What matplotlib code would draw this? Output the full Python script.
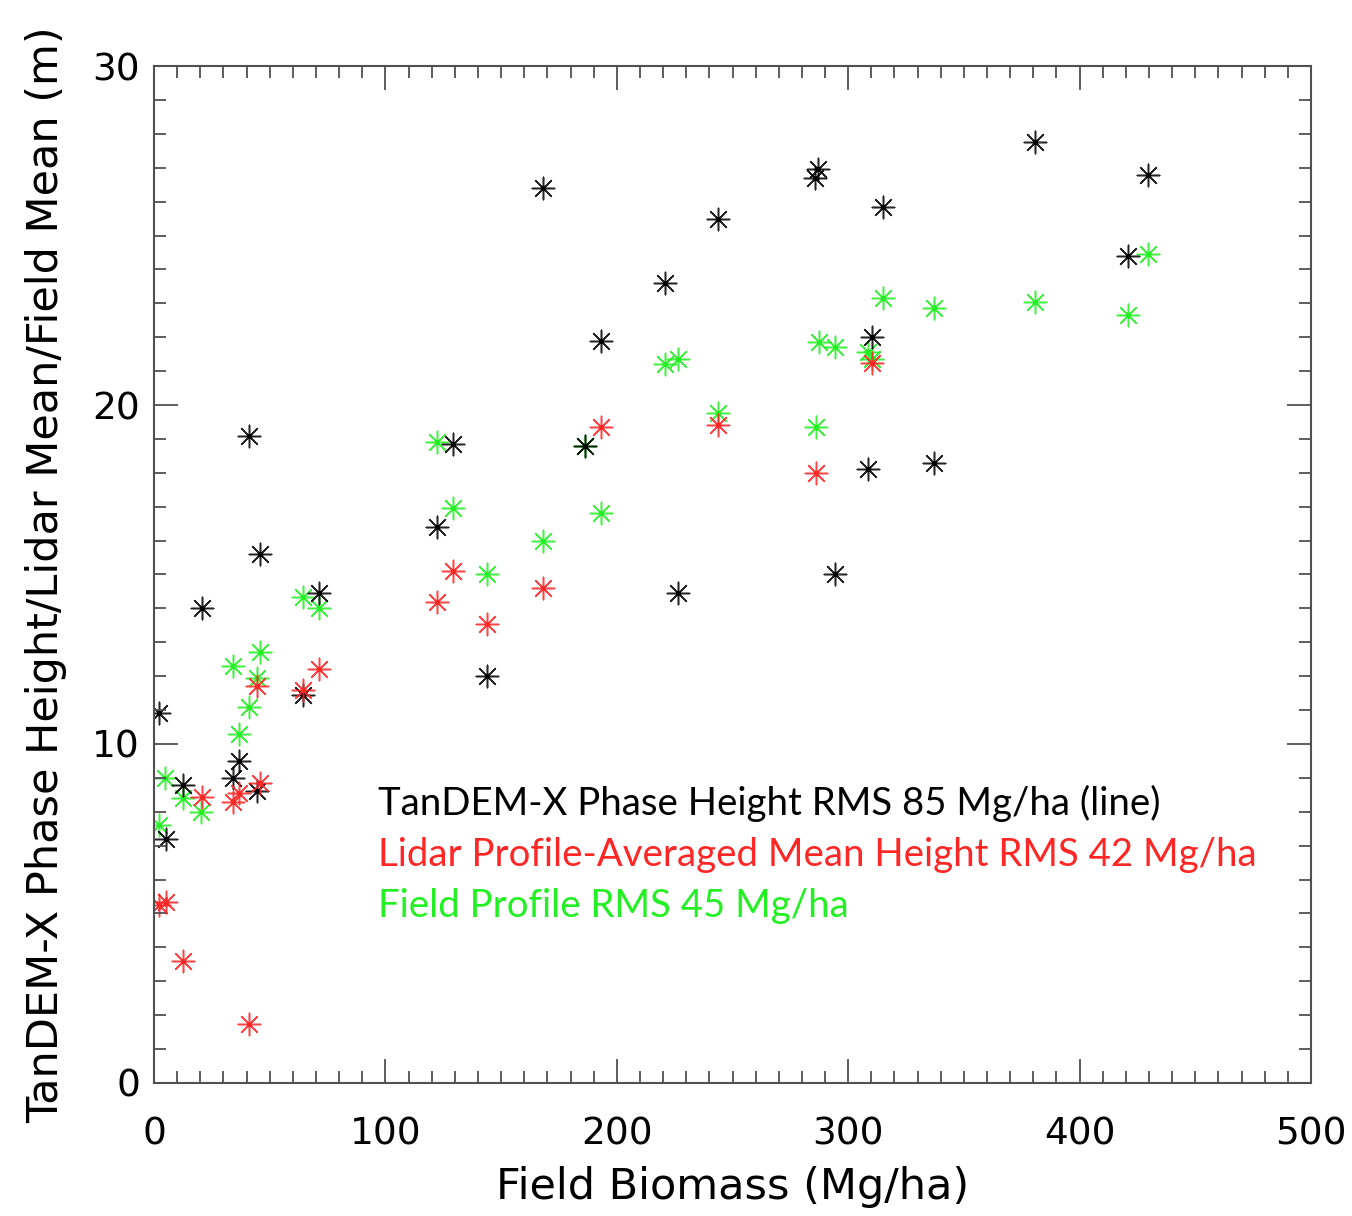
import numpy as np
import matplotlib
matplotlib.use("Agg")
import matplotlib.pyplot as plt
from matplotlib.ticker import MultipleLocator

# data (Field Biomass Mg/ha, height m)
tdx_biomass = [2.2, 5.2, 12.5, 20.7, 34.1, 36.7, 41.1, 44.5, 45.8, 64.4,
               71.3, 122.4, 129.2, 143.9, 168.1, 186.3, 193.2, 220.8, 226.4, 243.7,
               285.7, 286.9, 294.3, 308.6, 310.3, 315.0, 337.1, 380.7, 420.9, 429.6]
tdx_height = [10.9, 7.2, 8.8, 14.0, 9.0, 9.5, 19.1, 8.6, 15.6, 11.45,
              14.45, 16.4, 18.85, 12.0, 26.4, 18.8, 21.9, 23.6, 14.45, 25.5,
              26.7, 26.95, 15.0, 18.1, 22.0, 25.85, 18.3, 27.75, 24.4, 26.8]

lidar_biomass = [2.2, 5.2, 12.5, 20.7, 34.1, 36.7, 41.1, 44.5, 45.8, 64.4,
                 71.3, 122.3, 129.2, 143.9, 168.1, 193.2, 243.7, 286.1, 310.3]
lidar_height = [5.25, 5.35, 3.6, 8.45, 8.3, 8.55, 1.75, 11.7, 8.85, 11.6,
                12.2, 14.2, 15.1, 13.55, 14.6, 19.35, 19.4, 18.0, 21.25]

field_biomass = [2.2, 4.8, 12.5, 20.3, 34.1, 36.7, 41.1, 44.5, 45.8, 64.4,
                 71.3, 122.3, 129.2, 143.9, 168.1, 186.3, 193.2, 220.8, 226.4, 243.7,
                 286.1, 287.4, 294.3, 308.6, 310.3, 315.0, 337.1, 380.7, 420.9, 429.6]
field_height = [7.6, 9.0, 8.4, 8.0, 12.3, 10.3, 11.1, 11.95, 12.7, 14.35,
                14.0, 18.9, 16.95, 15.0, 16.0, 18.8, 16.8, 21.2, 21.35, 19.75,
                19.35, 21.85, 21.7, 21.55, 21.35, 23.15, 22.85, 23.05, 22.65, 24.45]

labels = ['TanDEM-X Phase Height RMS 85 Mg/ha (line)',
          'Lidar Profile-Averaged Mean Height RMS 42 Mg/ha',
          'Field Profile RMS 45 Mg/ha']
colors = ['black', '#ff2626', '#22f022']

fig = plt.figure(figsize=(13.52, 12.16), dpi=100)
ax = fig.add_axes([0.1139, 0.1094, 0.8558, 0.8363])

star = (8, 2, 0)
for xs, ys, c in [(field_biomass, field_height, colors[2]),
                  (tdx_biomass, tdx_height, colors[0]),
                  (lidar_biomass, lidar_height, colors[1])]:
    ax.scatter(xs, ys, marker=star, s=260, color=c, linewidths=1.1, alpha=0.85)
    ax.scatter(xs, ys, marker='o', s=8, color=c)

ax.set_xlim(0, 500)
ax.set_ylim(0, 30)
ax.xaxis.set_major_locator(MultipleLocator(100))
ax.xaxis.set_minor_locator(MultipleLocator(10))
ax.yaxis.set_major_locator(MultipleLocator(10))
ax.yaxis.set_minor_locator(MultipleLocator(1))
ax.tick_params(which='both', direction='in', top=True, right=True,
               color='#505050', width=1.3)
ax.tick_params(which='major', length=17)
ax.tick_params(which='minor', length=8.5)
ax.tick_params(axis='x', which='major', pad=24, labelsize=27)
ax.tick_params(axis='y', which='major', pad=10, labelsize=27)
for sp in ax.spines.values():
    sp.set_color('#505050')
    sp.set_linewidth(1.5)

ax.set_xlabel('Field Biomass (Mg/ha)', fontsize=31, labelpad=10)
ax.set_ylabel('TanDEM-X Phase Height/Lidar Mean/Field Mean (m)', fontsize=31,
              labelpad=18)

# colored text legend
for i, (lab, c) in enumerate(zip(labels, colors)):
    ax.text(96.8, 7.9 - 1.5 * i, lab, color=c, fontsize=27.6, family='Lato',
            va='baseline', ha='left')

fig.savefig('out.png', dpi=100)
